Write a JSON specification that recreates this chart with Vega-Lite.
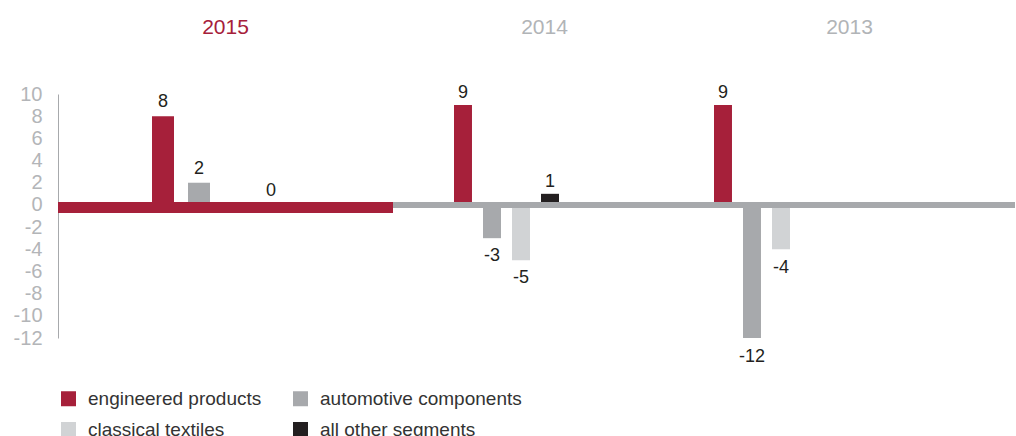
{
  "$schema": "https://vega.github.io/schema/vega-lite/v6.json",
  "autosize": {"type": "pad"},
  "padding": {"left": 13, "top": 17, "right": 0, "bottom": 0},
  "background": "white",
  "spacing": 0,
  "bounds": "flush",
  "config": {
    "view": {"stroke": null},
    "font": "Liberation Sans",
    "axis": {"labelOverlap": false},
    "title": {"fontSize": 21, "fontWeight": "normal", "font": "Liberation Sans", "anchor": "middle", "baseline": "alphabetic"}
  },
  "data": {
    "values": [
      {"year": "2015", "segment": "engineered products", "value": 8},
      {"year": "2015", "segment": "automotive components", "value": 2},
      {"year": "2015", "segment": "all other segments", "value": 0},
      {"year": "2014", "segment": "engineered products", "value": 9},
      {"year": "2014", "segment": "automotive components", "value": -3},
      {"year": "2014", "segment": "classical textiles", "value": -5},
      {"year": "2014", "segment": "all other segments", "value": 1},
      {"year": "2013", "segment": "engineered products", "value": 9},
      {"year": "2013", "segment": "automotive components", "value": -12},
      {"year": "2013", "segment": "classical textiles", "value": -4}
    ]
  },
  "resolve": {"scale": {"color": "shared"}},
  "hconcat": [
    {
      "width": 335,
      "height": 244,
      "title": {"text": "2015", "color": "#a6203a", "offset": 46},
      "transform": [{"filter": "datum.year == '2015'"}],
      "layer": [
        {
          "mark": {"type": "bar"},
          "encoding": {
            "x": {"field": "segment", "type": "nominal", "axis": null,
                  "scale": {"domain": ["engineered products", "automotive components", "classical textiles", "all other segments"], "paddingInner": 0.3889, "paddingOuter": 0, "range": [94, 224]}},
            "y": {"field": "value", "type": "quantitative",
                  "scale": {"domain": [-12, 10], "nice": false, "zero": false},
                  "axis": {"values": [-12, -10, -8, -6, -4, -2, 0, 2, 4, 6, 8, 10], "tickCount": 30, "labelExpr": "'' + datum.value", "labelOverlap": false, "labelFontSize": 20, "labelColor": "#b3b5b8", "labelFont": "Liberation Sans", "domainColor": "#a7a9ac", "domainWidth": 1, "ticks": false, "grid": false, "title": null, "labelPadding": 16}},
            "color": {"field": "segment", "type": "nominal",
                      "scale": {"domain": ["engineered products", "classical textiles", "automotive components", "all other segments"], "range": ["#a6203a", "#d1d3d5", "#a7a9ac", "#231f20"]},
                      "legend": {"title": null, "orient": "none", "legendX": 1, "legendY": 295, "columns": 2, "columnPadding": 29, "rowPadding": 11, "symbolType": "square", "symbolSize": 225, "symbolStrokeWidth": 0, "labelFontSize": 19, "labelFont": "Liberation Sans", "labelColor": "#333333", "labelOffset": 10, "labelLimit": 400}}
          }
        },
        {
          "mark": {"type": "rule", "color": "#a6203a", "strokeWidth": 11, "yOffset": 2.5},
          "encoding": {"y": {"datum": 0}}
        },
        {
          "transform": [{"filter": "datum.value >= 0"}],
          "mark": {"type": "text", "fontSize": 18, "color": "#231f20", "baseline": "alphabetic", "dy": -9},
          "encoding": {
            "x": {"field": "segment", "type": "nominal", "bandPosition": 0.5},
            "y": {"field": "value", "type": "quantitative"},
            "text": {"field": "value", "type": "nominal"}
          }
        }
      ]
    },
    {
      "width": 303,
      "height": 244,
      "title": {"text": "2014", "color": "#b1b4b7", "offset": 46},
      "transform": [{"filter": "datum.year == '2014'"}],
      "layer": [
        {
          "mark": {"type": "bar"},
          "encoding": {
            "x": {"field": "segment", "type": "nominal", "axis": null,
                  "scale": {"domain": ["engineered products", "automotive components", "classical textiles", "all other segments"], "paddingInner": 0.38, "paddingOuter": 0, "range": [61, 166]}},
            "y": {"field": "value", "type": "quantitative", "axis": null,
                  "scale": {"domain": [-12, 10], "nice": false, "zero": false}},
            "color": {"field": "segment", "type": "nominal",
                      "scale": {"domain": ["engineered products", "classical textiles", "automotive components", "all other segments"], "range": ["#a6203a", "#d1d3d5", "#a7a9ac", "#231f20"]}}
          }
        },
        {
          "mark": {"type": "rule", "color": "#a7a9ac", "strokeWidth": 6},
          "encoding": {"y": {"datum": 0}}
        },
        {
          "transform": [{"filter": "datum.value >= 0"}],
          "mark": {"type": "text", "fontSize": 18, "color": "#231f20", "baseline": "alphabetic", "dy": -7},
          "encoding": {
            "x": {"field": "segment", "type": "nominal", "bandPosition": 0.5},
            "y": {"field": "value", "type": "quantitative"},
            "text": {"field": "value", "type": "nominal"}
          }
        },
        {
          "transform": [{"filter": "datum.value < 0"}],
          "mark": {"type": "text", "fontSize": 18, "color": "#231f20", "baseline": "alphabetic", "dy": 23},
          "encoding": {
            "x": {"field": "segment", "type": "nominal", "bandPosition": 0.5},
            "y": {"field": "value", "type": "quantitative"},
            "text": {"field": "value", "type": "nominal"}
          }
        }
      ]
    },
    {
      "width": 319,
      "height": 244,
      "title": {"text": "2013", "color": "#b1b4b7", "dx": -6, "offset": 46},
      "transform": [{"filter": "datum.year == '2013'"}],
      "layer": [
        {
          "mark": {"type": "bar"},
          "encoding": {
            "x": {"field": "segment", "type": "nominal", "axis": null,
                  "scale": {"domain": ["engineered products", "automotive components", "classical textiles", "all other segments"], "paddingInner": 0.38, "paddingOuter": 0, "range": [18, 123]}},
            "y": {"field": "value", "type": "quantitative", "axis": null,
                  "scale": {"domain": [-12, 10], "nice": false, "zero": false}},
            "color": {"field": "segment", "type": "nominal",
                      "scale": {"domain": ["engineered products", "classical textiles", "automotive components", "all other segments"], "range": ["#a6203a", "#d1d3d5", "#a7a9ac", "#231f20"]}}
          }
        },
        {
          "mark": {"type": "rule", "color": "#a7a9ac", "strokeWidth": 6},
          "encoding": {"y": {"datum": 0}}
        },
        {
          "transform": [{"filter": "datum.value >= 0"}],
          "mark": {"type": "text", "fontSize": 18, "color": "#231f20", "baseline": "alphabetic", "dy": -7},
          "encoding": {
            "x": {"field": "segment", "type": "nominal", "bandPosition": 0.5},
            "y": {"field": "value", "type": "quantitative"},
            "text": {"field": "value", "type": "nominal"}
          }
        },
        {
          "transform": [{"filter": "datum.value < 0"}],
          "mark": {"type": "text", "fontSize": 18, "color": "#231f20", "baseline": "alphabetic", "dy": 24},
          "encoding": {
            "x": {"field": "segment", "type": "nominal", "bandPosition": 0.5},
            "y": {"field": "value", "type": "quantitative"},
            "text": {"field": "value", "type": "nominal"}
          }
        }
      ]
    }
  ]
}
